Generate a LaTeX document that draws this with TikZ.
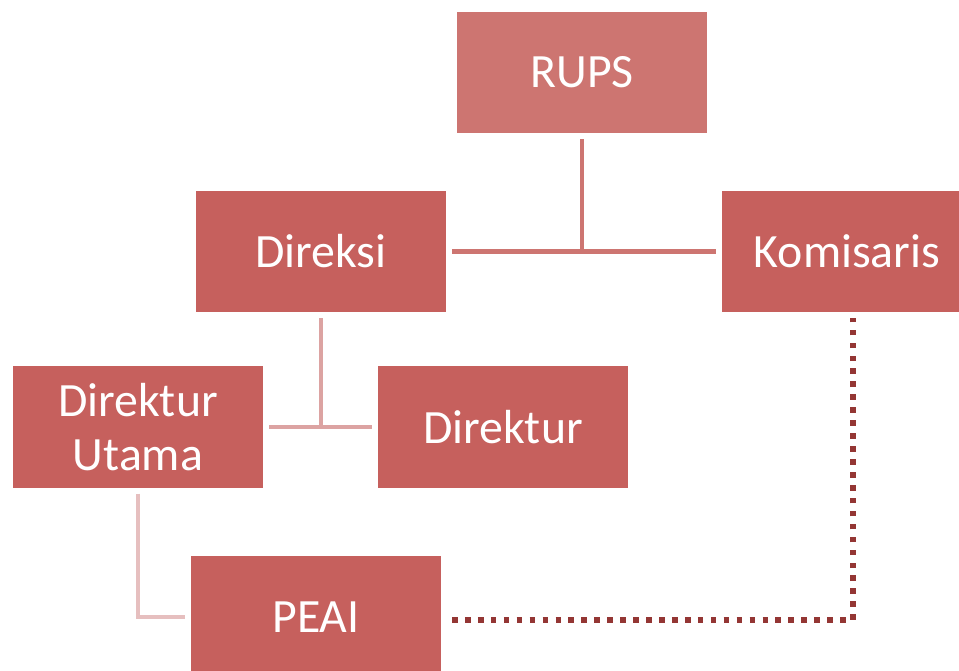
\documentclass[tikz,border=0pt]{standalone}
\usepackage{fontspec}
\setmainfont{Carlito}
\usetikzlibrary{positioning}
\definecolor{mred}{HTML}{C6605D}
\definecolor{mrose}{HTML}{CD7571}
\definecolor{mpink}{HTML}{DCA3A2}
\definecolor{mpale}{HTML}{E6BFBF}
\definecolor{mdark}{HTML}{943634}
\tikzstyle{unit} = [rectangle, minimum width = 6.25cm, minimum height = 3.025cm, outer sep = 0.15cm, text = white, text centered, fill = mred, font = \fontsize{34}{39}\selectfont]
\tikzstyle{link} = [line width = 3.5pt]
\tikzstyle{watch} = [line width = 4pt, dash pattern = on 4pt off 5.2pt, color = mdark]

\begin{document}
\begin{tikzpicture}[x=0.025cm, y=-0.025cm, align=center]
  \clip (0,0) rectangle (959,670);
  \node (rups) [unit, fill = mrose] at (582,72.5) {RUPS};
  \node (direksi) [unit] at (321,251.5) {Direksi};
  \node (komisaris) [unit] at (847,251.5) {Komisaris};
  \node (dirut) [unit] at (138,427) {Direktur\\Utama};
  \node (direktur) [unit] at (503,427) {Direktur};
  \node (peai) [unit] at (316,617) {PEAI};
  \draw [link, mrose] (direksi) -- (komisaris);
  \draw [link, mrose] (rups) -- (rups |- direksi);
  \draw [link, mpink] (dirut) -- (direktur);
  \draw [link, mpink] (direksi) -- (direksi |- dirut);
  \draw [link, mpale] (dirut) |- (peai);
  % pengawasan komisaris
  \draw [watch] ([xshift=0.125cm, yshift=-0.075cm]peai.east) -| ([xshift=0.15cm]komisaris.south);
\end{tikzpicture}
\end{document}
